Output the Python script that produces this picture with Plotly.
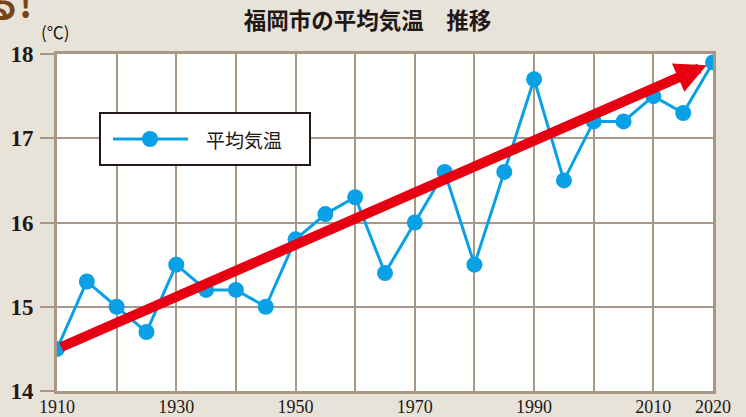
import plotly.graph_objects as go

years = [1910, 1915, 1920, 1925, 1930, 1935, 1940, 1945, 1950, 1955, 1960, 1965,
         1970, 1975, 1980, 1985, 1990, 1995, 2000, 2005, 2010, 2015, 2020]
temps = [14.5, 15.3, 15.0, 14.7, 15.5, 15.2, 15.2, 15.0, 15.8, 16.1, 16.3, 15.4,
         16.0, 16.6, 15.5, 16.6, 17.7, 16.5, 17.2, 17.2, 17.5, 17.3, 17.9]
series_name = "平均気温"
x_ticks = [1910, 1930, 1950, 1970, 1990, 2010, 2020]
y_ticks = [14, 15, 16, 17, 18]
title_text = "福岡市の平均気温　推移"
unit_text = "(℃)"

BG = "#e8e3d9"
GRID = "#a89687"
BLUE = "#0aa0e6"
RED = "#e60012"
DARK = "#231815"
FONT = "Noto Sans CJK JP"
NUMFONT = "Liberation Sans Narrow"

W, H = 746, 417
L, R, T, B = 57, 33, 54, 26
PW, PH = W - L - R, H - T - B


def px(xp):
    return (xp - L) / PW


def py(yp):
    return (H - B - yp) / PH


fig = go.Figure()
fig.add_trace(go.Scatter(
    x=years, y=temps, name=series_name, mode="lines+markers",
    line=dict(color=BLUE, width=3),
    marker=dict(color=BLUE, size=16),
    showlegend=False,
))

# trend arrow from first to last value
fig.add_annotation(
    x=years[-1], y=temps[-1], ax=years[0], ay=temps[0],
    xref="x", yref="y", axref="x", ayref="y",
    showarrow=True, arrowhead=2, arrowsize=0.62, arrowwidth=10,
    arrowcolor=RED, standoff=7, startstandoff=3, text="",
)

# legend box (drawn)
fig.add_shape(type="rect", xref="paper", yref="paper",
              x0=px(100), x1=px(310), y0=py(165), y1=py(113),
              fillcolor="white", line=dict(color=DARK, width=2), layer="above")
fig.add_shape(type="line", xref="paper", yref="paper",
              x0=px(113), x1=px(188), y0=py(139), y1=py(139),
              line=dict(color=BLUE, width=3), layer="above")
fig.add_shape(type="circle", xref="paper", yref="paper",
              x0=px(142), x1=px(158), y0=py(147), y1=py(131),
              fillcolor=BLUE, line=dict(color=BLUE, width=0), layer="above")
fig.add_annotation(text=series_name, xref="paper", yref="paper",
                   x=px(204), y=py(139), xanchor="left", yanchor="middle",
                   showarrow=False, font=dict(size=19, family=FONT, color=DARK))

fig.update_layout(
    width=W, height=H,
    margin=dict(l=L, r=R, t=T, b=B),
    paper_bgcolor=BG, plot_bgcolor="white",
    font=dict(family=FONT, color=DARK),
    title=dict(text="<b>" + title_text + "</b>", x=367.5 / W, xref="container",
               xanchor="center", y=(H - 21) / H, yref="container",
               yanchor="middle",
               font=dict(size=22.5, family=FONT, color=DARK)),
    showlegend=False,
    xaxis=dict(range=[1910, 2020], tickvals=x_ticks,
               ticktext=[str(v) for v in x_ticks],
               showgrid=False,
               showline=True, linecolor=GRID, linewidth=3, mirror=True,
               ticks="", tickfont=dict(size=18, family=NUMFONT, color=DARK),
               zeroline=False, automargin=False, ticklabelstandoff=-3),
    yaxis=dict(range=[14, 18], tickvals=y_ticks,
               showgrid=True, gridcolor=GRID, gridwidth=2,
               showline=True, linecolor=GRID, linewidth=3, mirror=True,
               ticks="outside", ticklen=14, tickcolor=GRID, tickwidth=2,
               tickfont=dict(size=23, family=NUMFONT, color=DARK, weight="bold"),
               ticklabelstandoff=2,
               zeroline=False, automargin=False),
)

# vertical grid every 10 years via a second (overlaid) x axis grid
fig.update_layout(xaxis2=dict(range=[1910, 2020], dtick=10, tick0=1910,
                              overlaying="x", showgrid=True, gridcolor=GRID,
                              gridwidth=2, showticklabels=False, ticks="",
                              zeroline=False, layer="below traces"))
fig.add_trace(go.Scatter(x=[years[0]], y=[temps[0]], xaxis="x2", mode="markers",
                         marker=dict(opacity=0), hoverinfo="skip",
                         showlegend=False))

fig.add_annotation(text=unit_text, xref="paper", yref="paper",
                   x=px(39), y=py(32), xanchor="left", yanchor="middle",
                   showarrow=False, font=dict(size=17, family=FONT, color=DARK))
fig.add_annotation(text="<b>る!</b>", xref="paper", yref="paper",
                   x=px(34), y=py(2), xanchor="right", yanchor="middle",
                   showarrow=False, font=dict(size=36, family=FONT, color="#774414"))

fig.write_html(
    "out.html",
    config={"displayModeBar": False},
    post_script="document.body.style.margin='0';document.body.style.background='" + BG + "';",
)
